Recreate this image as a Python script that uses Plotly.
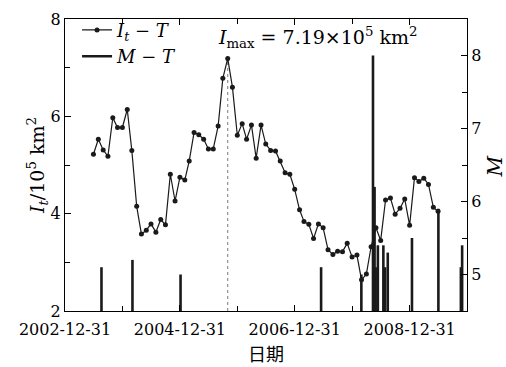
import pandas as pd
import plotly.graph_objects as go

# Monthly intensity I_t (10^5 km^2), June 2003 - June 2009
IT = [5.22, 5.53, 5.31, 5.18, 5.97, 5.77, 5.77, 6.14, 5.30, 4.15,
      3.58, 3.66, 3.79, 3.62, 3.88, 3.77, 4.81, 4.26, 4.75, 4.69,
      5.08, 5.67, 5.62, 5.53, 5.33, 5.33, 5.80, 6.78, 7.19, 6.60,
      5.61, 5.85, 5.53, 5.82, 5.14, 5.82, 5.43, 5.30, 5.29, 5.08,
      4.84, 4.81, 4.50, 4.08, 3.84, 3.78, 3.49, 3.79, 3.71, 3.26,
      3.16, 3.23, 3.22, 3.39, 3.11, 3.15, 2.64, 2.76, 3.32, 3.71,
      3.45, 4.28, 4.32, 3.99, 4.11, 4.30, 3.76, 4.74, 4.66, 4.73,
      4.60, 4.13, 4.05]
IT_DATES = pd.date_range("2003-06-30", periods=len(IT), freq="ME")

# Earthquake dates and magnitudes
QUAKE_DATES = ["2003-08-20", "2004-03-04", "2005-01-04", "2007-06-17",
               "2008-02-28", "2008-05-12", "2008-05-22", "2008-05-29",
               "2008-06-12", "2008-07-17", "2008-07-28", "2008-08-14",
               "2009-01-15", "2009-07-02", "2009-11-22", "2009-11-30"]
QUAKE_M = [5.1, 5.2, 5.0, 5.1, 5.0, 8.0, 6.2, 5.1,
           5.4, 5.4, 5.1, 5.3, 5.5, 5.9, 5.1, 5.4]

X_RANGE = ["2002-12-31", "2009-12-31"]
X_LABELS = ["2002-12-31", "2004-12-31", "2006-12-31", "2008-12-31"]
X_MINOR = ["2003-12-31", "2005-12-31", "2007-12-31", "2009-12-31"]
Y_RANGE = [2, 8]
Y_TICKS = [2, 4, 6, 8]
M_RANGE = [4.5, 8.5]
M_TICKS = [5, 6, 7, 8]

SERIF = "DejaVu Serif"
INK = "#1a1a1a"

# stems for the magnitude series
stem_x, stem_y = [], []
for d, m in zip(QUAKE_DATES, QUAKE_M):
    stem_x += [d, d, None]
    stem_y += [M_RANGE[0], m, None]

i_peak = max(range(len(IT)), key=lambda i: IT[i])
peak_date, peak_val = IT_DATES[i_peak], IT[i_peak]

fig = go.Figure()

fig.add_trace(go.Scatter(
    x=stem_x, y=stem_y, mode="lines", yaxis="y2",
    line=dict(color=INK, width=2.6),
    name="<i>M</i> − <i>T</i>", legendrank=2,
))

fig.add_trace(go.Scatter(
    x=[peak_date, peak_date], y=[Y_RANGE[0], peak_val], mode="lines",
    line=dict(color="#555", width=0.8, dash="dot"),
    showlegend=False, hoverinfo="skip",
))

fig.add_trace(go.Scatter(
    x=IT_DATES, y=IT, mode="lines+markers",
    line=dict(color=INK, width=1.2),
    marker=dict(color=INK, size=5),
    name="<i>I</i><sub><i>t</i></sub> − <i>T</i>", legendrank=1,
))

fig.add_annotation(
    xref="paper", yref="paper", x=0.376, y=0.937,
    xanchor="left", yanchor="middle", showarrow=False,
    text=f"<i>I</i><sub>max</sub> = {peak_val:.2f}×10<sup>5</sup> km<sup>2</sup>",
    font=dict(family=SERIF, size=19, color="black"),
)

# right-hand axis label, placed near the page edge
fig.add_annotation(
    xref="paper", yref="paper", x=1.072, y=0.495,
    xanchor="center", yanchor="middle", showarrow=False, textangle=-90,
    text="<i>M</i>", font=dict(family=SERIF, size=20, color="black"),
)

axis_common = dict(
    showline=True, linecolor="black", linewidth=1.2,
    ticks="inside", ticklen=6, tickcolor="black", tickwidth=1,
    showgrid=False, zeroline=False, automargin=False,
    tickfont=dict(family=SERIF, size=16, color="black"),
)

fig.update_layout(
    width=506, height=367,
    margin=dict(l=65, r=39, t=15, b=56),
    paper_bgcolor="white", plot_bgcolor="white",
    xaxis=dict(
        **axis_common, type="date", range=X_RANGE,
        tickmode="array", tickvals=X_LABELS, ticktext=X_LABELS,
        mirror="ticks", ticklabelstandoff=4,
        minor=dict(tickmode="array", tickvals=X_MINOR, ticks="inside",
                   ticklen=5, tickcolor="black"),
        title=dict(text="日期", standoff=10,
                   font=dict(family="Noto Sans CJK SC", size=18, color="black")),
    ),
    yaxis=dict(
        **axis_common, range=Y_RANGE, tickmode="array", tickvals=Y_TICKS,
        minor=dict(dtick=1, ticks="inside", ticklen=5, tickcolor="black"),
        title=dict(text="<i>I</i><sub><i>t</i></sub>/10<sup>5</sup> km<sup>2</sup>",
                   standoff=0, font=dict(family=SERIF, size=19, color="black")),
    ),
    yaxis2=dict(
        **axis_common, range=M_RANGE, overlaying="y", side="right",
        tickmode="array", tickvals=M_TICKS,
        minor=dict(dtick=0.5, ticks="inside", ticklen=5, tickcolor="black"),
    ),
    legend=dict(
        x=0.03, y=1.025, xanchor="left", yanchor="top",
        bgcolor="rgba(0,0,0,0)", tracegroupgap=0,
        font=dict(family=SERIF, size=18, color="black"),
    ),
    showlegend=True,
)

fig.write_html("out.html")
